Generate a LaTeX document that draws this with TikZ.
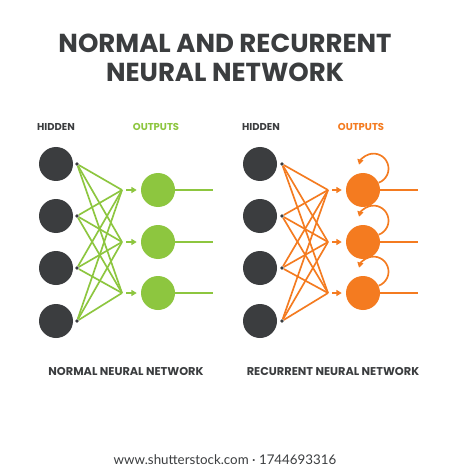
\documentclass[tikz,border=0pt]{standalone}
\usepackage{fontspec}
\setmainfont{Poppins}
\newfontfamily\footfont{Lato}
\usetikzlibrary{arrows.meta}
\definecolor{nndark}{HTML}{3B3D3F}
\definecolor{nngreen}{HTML}{8DC63F}
\definecolor{nnorange}{HTML}{F47B20}

\begin{document}
\begin{tikzpicture}[x=0.75pt, y=0.75pt, >={Triangle[length=4pt, width=4.5pt]},
  unit/.style={circle, minimum size=25.5pt, inner sep=0pt},
  hidden/.style={unit, fill=nndark},
  pin/.style={circle, fill=nndark, minimum size=2.8pt, inner sep=0pt},
  head/.style={font=\bfseries\fontsize{7.5}{9}\selectfont},
  caption/.style={nndark, font=\bfseries\fontsize{8.5}{10}\selectfont},
  wire/.style={line width=1.25pt}]

  % Canvas
  \fill[white] (0,0) rectangle (450,-470);
  \useasboundingbox (0,0) rectangle (450,-470);

  % Title
  \node[nndark, align=center, font=\bfseries\fontsize{19.5}{21.75}\selectfont] (title) at (225,-57.5)
    {NORMAL AND RECURRENT\\NEURAL NETWORK};

  % Normal network
  \node[head, nndark] (lhid) at (56,-127) {HIDDEN};
  \node[head, nngreen] (lout) at (156,-127) {OUTPUTS};
  \foreach \i/\y in {1/164, 2/216, 3/268, 4/321} {
    \node[hidden] (lh\i) at (56,-\y) {};
    \node[pin] (lp\i) at (77,-\y) {};
  }
  \foreach \j/\y in {1/190, 2/242, 3/293} {
    \coordinate (lc\j) at (122,-\y);
    \node[unit, fill=nngreen] (lo\j) at (158,-\y) {};
    \coordinate (le\j) at (213,-\y);
    \draw[wire, nngreen, ->, shorten <=3pt, shorten >=3pt] (lc\j) -- (lo\j);
    \draw[wire, nngreen] (lo\j) -- (le\j);
  }
  \foreach \i in {1,...,4}
    \foreach \j in {1,2,3}
      \draw[wire, nngreen] (lp\i) -- (lc\j);

  % Recurrent network
  \node[head, nndark] (rhid) at (261,-127) {HIDDEN};
  \node[head, nnorange] (rout) at (361,-127) {OUTPUTS};
  \foreach \i/\y in {1/164, 2/216, 3/268, 4/321} {
    \node[hidden] (rh\i) at (260,-\y) {};
    \node[pin] (rp\i) at (282,-\y) {};
  }
  \foreach \j/\y in {1/190, 2/242, 3/293} {
    \coordinate (rc\j) at (328,-\y);
    \node[unit, fill=nnorange] (ro\j) at (363,-\y) {};
    \coordinate (re\j) at (418,-\y);
    \draw[wire, nnorange, ->, shorten <=3pt, shorten >=3pt] (rc\j) -- (ro\j);
    \draw[wire, nnorange] (ro\j) -- (re\j);
    % self loop
    \draw[wire, nnorange, ->] (ro\j.25) arc[start angle=-70, end angle=165, radius=15];
  }
  \foreach \i in {1,...,4}
    \foreach \j in {1,2,3}
      \draw[wire, nnorange] (rp\i) -- (rc\j);

  % Captions
  \node[caption] (lname) at (126,-372) {NORMAL NEURAL NETWORK};
  \node[caption] (rname) at (333,-372) {RECURRENT NEURAL NETWORK};

  % Credit line
  \node[nndark, font=\footfont\fontsize{10}{12}\selectfont] (credit) at (225,-460)
    {www.shutterstock.com · 1744693316};
\end{tikzpicture}
\end{document}
